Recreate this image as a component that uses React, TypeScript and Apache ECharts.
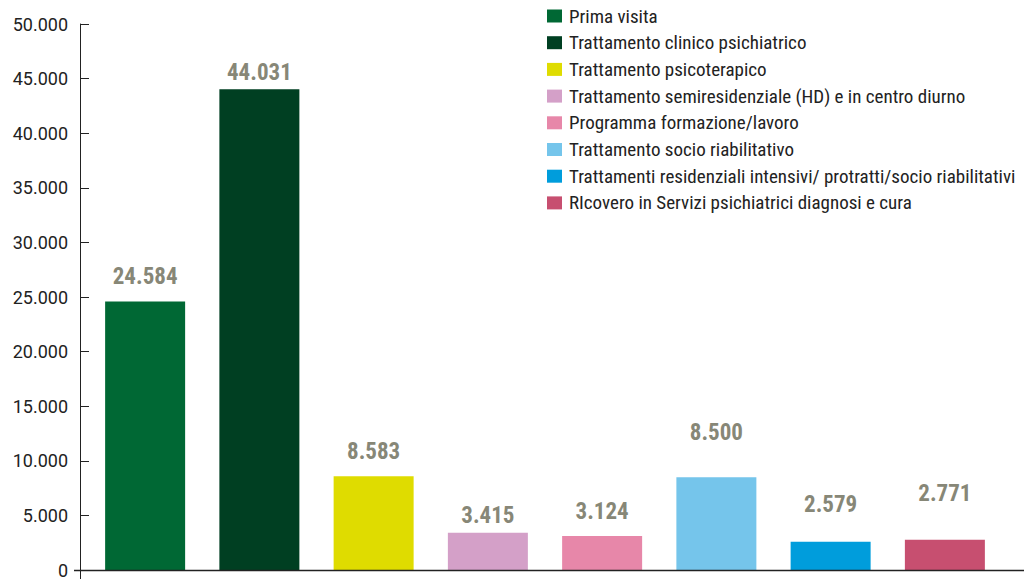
import React, { useEffect, useRef } from "react";
import * as echarts from "echarts";

const categories = [
  "Prima visita",
  "Trattamento clinico psichiatrico",
  "Trattamento psicoterapico",
  "Trattamento semiresidenziale (HD) e in centro diurno",
  "Programma formazione/lavoro",
  "Trattamento socio riabilitativo",
  "Trattamenti residenziali intensivi/ protratti/socio riabilitativi",
  "RIcovero in Servizi psichiatrici diagnosi e cura",
];
const values = [24584, 44031, 8583, 3415, 3124, 8500, 2579, 2771];
const colors = ["#006834", "#003f22", "#dfdc00", "#d4a0c8", "#e787a9", "#75c5eb", "#009ddc", "#c74f70"];
// label gap above each bar (style only, px)
const labelGaps = [13.5, 5, 13.5, 5.5, 12.5, 33.5, 25.5, 34.5];

const FONT = "'Roboto Condensed', 'Liberation Sans', sans-serif";
const AXIS_FONT = "Roboto, 'Liberation Sans', sans-serif";

function fmt(v: number): string {
  const s = String(Math.round(v));
  return s.replace(/\B(?=(\d{3})+(?!\d))/g, ".");
}

export default function App() {
  const ref = useRef<HTMLDivElement>(null);
  useEffect(() => {
    if (!ref.current) return;
    const chart = echarts.init(ref.current, null, { renderer: "svg" });
    const series = categories.map((name, i) => ({
      name,
      type: "bar",
      stack: "all",
      barWidth: 80,
      itemStyle: { color: colors[i] },
      label: {
        show: true,
        position: "top",
        distance: labelGaps[i],
        color: "#878777",
        fontFamily: FONT,
        fontWeight: "bold",
        fontSize: 23,
        formatter: (p: any) => fmt(p.value),
      },
      data: values.map((v, j) => (j === i ? v : "-")),
    }));
    chart.setOption({
      animation: false,
      textStyle: { fontFamily: FONT },
      grid: { left: 88, right: 22, top: 24, bottom: 9, containLabel: false },
      legend: {
        orient: "vertical",
        left: 547,
        top: 6.5,
        padding: 0,
        icon: "rect",
        itemWidth: 15,
        itemHeight: 13,
        itemGap: 7.7,
        textStyle: { fontSize: 19, color: "#222", fontFamily: FONT, padding: [0, 0, 0, 2] },
        data: categories,
      },
      xAxis: {
        type: "category",
        data: categories,
        axisLine: { show: false },
        axisTick: { show: false },
        axisLabel: { show: false },
      },
      yAxis: {
        type: "value",
        min: 0,
        max: 50000,
        interval: 5000,
        offset: 8,
        axisLine: { show: true, lineStyle: { color: "#222", width: 1 } },
        axisTick: { show: true, inside: true, length: 9, lineStyle: { color: "#222" } },
        splitLine: { show: false },
        axisLabel: {
          fontSize: 18,
          color: "#222",
          fontFamily: AXIS_FONT,
          margin: 12,
          formatter: (v: number) => fmt(v),
        },
      },
      graphic: [
        { type: "line", shape: { x1: 74, y1: 570.5, x2: 1024, y2: 570.5 }, style: { stroke: "#222", lineWidth: 1.5 }, z: 100 },
        { type: "line", shape: { x1: 80.5, y1: 570, x2: 80.5, y2: 579 }, style: { stroke: "#222", lineWidth: 1 }, z: 100 },
      ],
      series,
    });
    return () => chart.dispose();
  }, []);
  return (
    <div
      ref={ref}
      style={{ position: "fixed", left: 0, top: 0, width: 1024, height: 579, background: "#fff" }}
    />
  );
}
